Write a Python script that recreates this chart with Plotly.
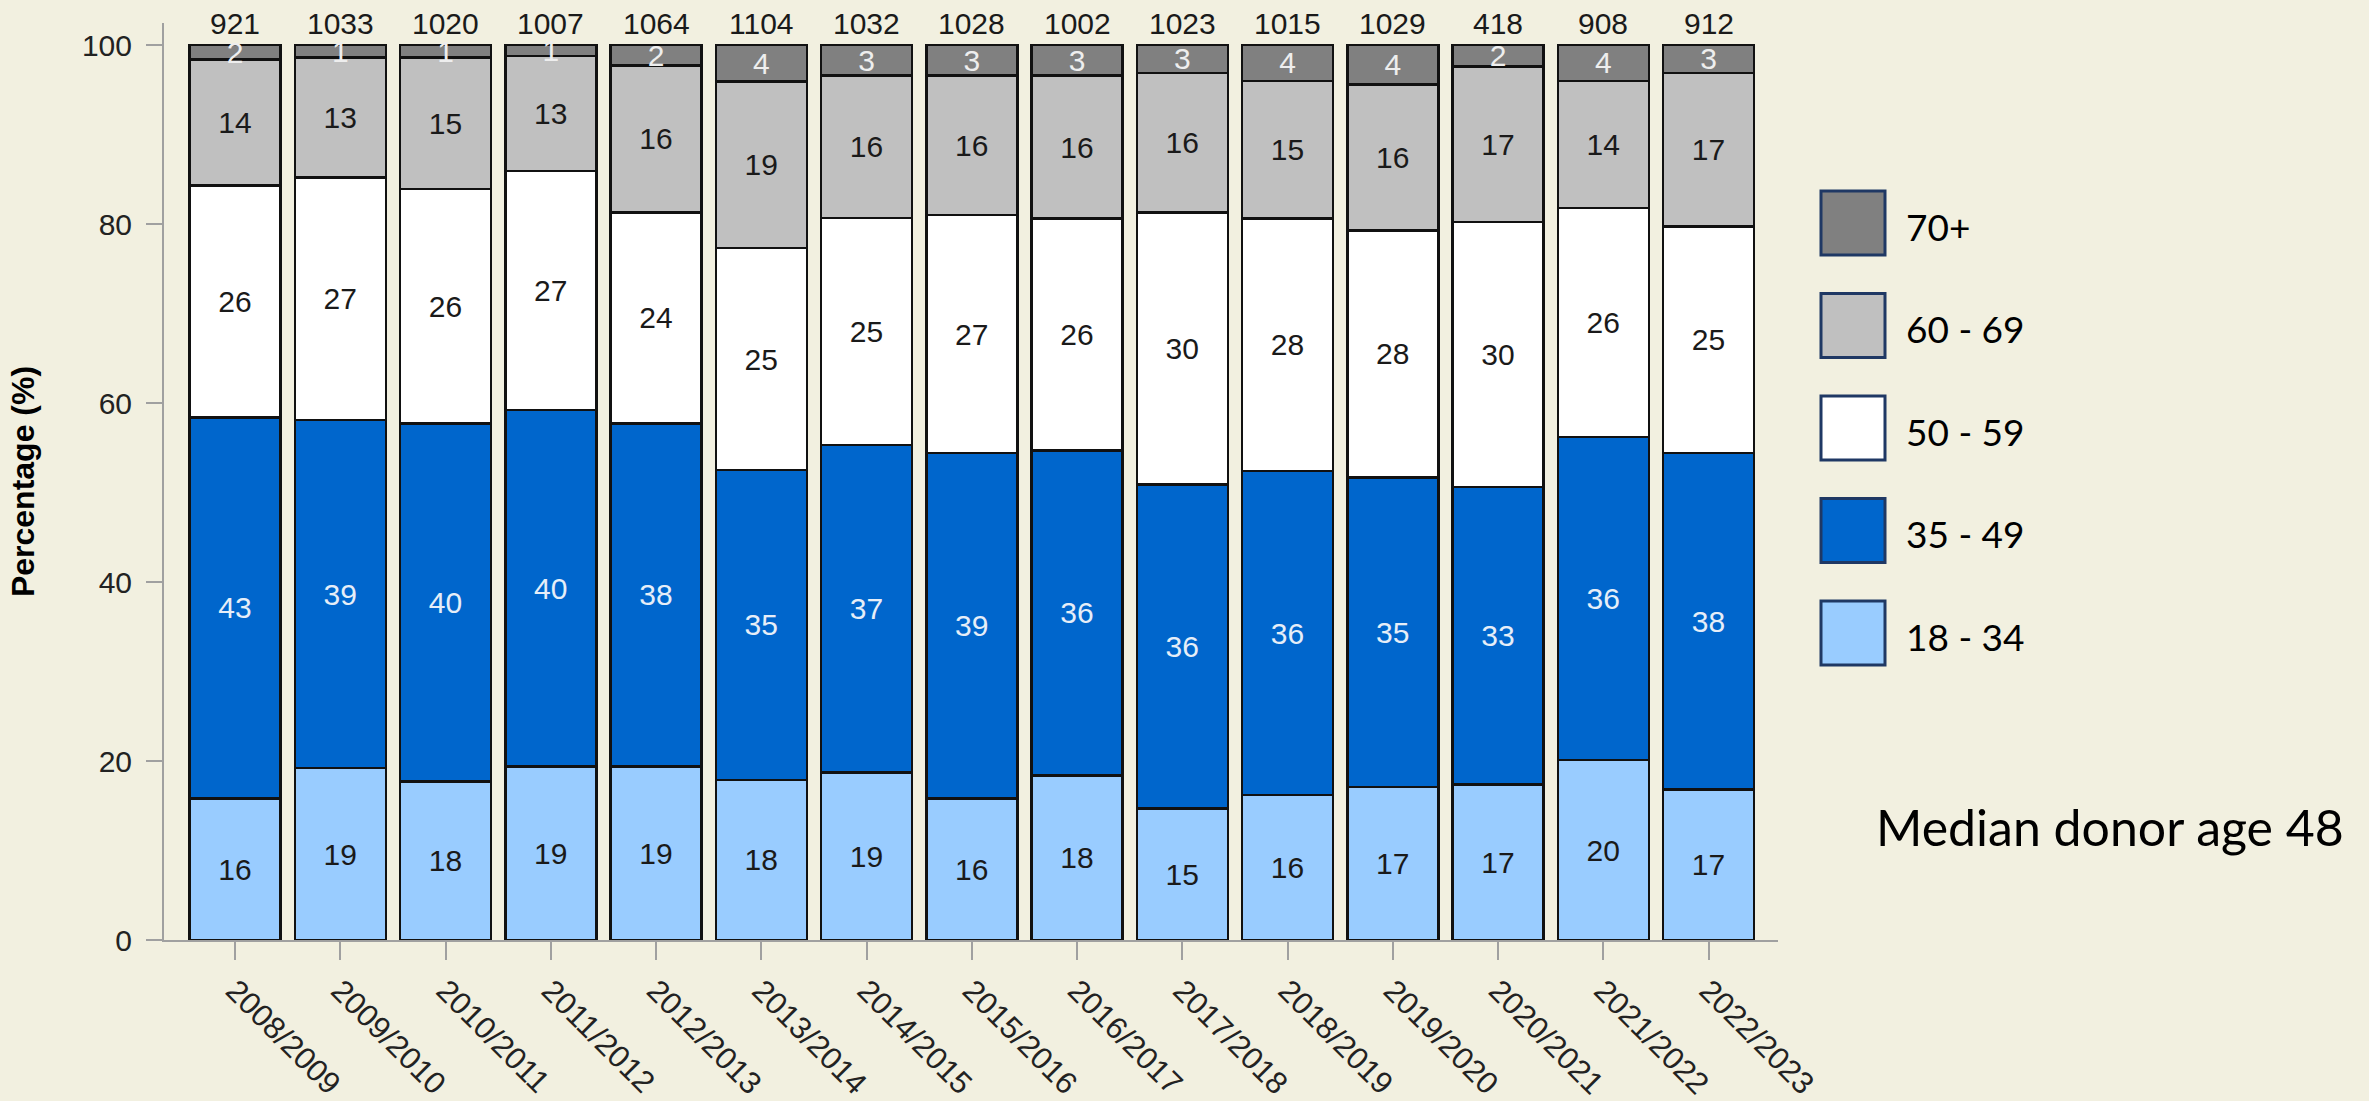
import plotly.graph_objects as go

# ---------------- data ----------------
years = ["2008/2009", "2009/2010", "2010/2011", "2011/2012", "2012/2013",
         "2013/2014", "2014/2015", "2015/2016", "2016/2017", "2017/2018",
         "2018/2019", "2019/2020", "2020/2021", "2021/2022", "2022/2023"]
donors = [921, 1033, 1020, 1007, 1064, 1104, 1032, 1028, 1002, 1023,
          1015, 1029, 418, 908, 912]

age_18_34 = [15.8, 19.2, 17.7, 19.4, 19.4, 17.9, 18.7, 15.8, 18.4, 14.7, 16.2, 17.1, 17.4, 20.1, 16.8]
age_35_49 = [42.6, 38.9, 40.0, 39.8, 38.3, 34.6, 36.6, 38.6, 36.3, 36.2, 36.2, 34.6, 33.2, 36.1, 37.6]
age_50_59 = [25.9, 27.1, 26.2, 26.7, 23.6, 24.8, 25.4, 26.6, 25.9, 30.4, 28.2, 27.6, 29.6, 25.6, 25.3]
age_60_69 = [14.1, 13.4, 14.7, 12.9, 16.4, 18.6, 15.9, 15.6, 16.0, 15.6, 15.4, 16.3, 17.4, 14.2, 17.2]
age_70_plus = [1.6, 1.4, 1.4, 1.2, 2.3, 4.1, 3.4, 3.4, 3.4, 3.1, 4.0, 4.4, 2.4, 4.0, 3.1]

group_names = ["18 - 34", "35 - 49", "50 - 59", "60 - 69", "70+"]
median_text = "Median donor age 48"
y_title = "Percentage (%)"

# ---------------- style ----------------
W, H = 2369, 1101
L, R, T, B = 164, 1778, 23, 940      # plot area in pixels
BG = "#F2F0E0"
fills = ["#99CCFF", "#0066CC", "#FFFFFF", "#C0C0C0", "#808080"]
label_colors = ["#1a1a1a", "#E6EEF8", "#1a1a1a", "#1a1a1a", "#EEEEEE"]
FONT = "Liberation Sans, Arial, sans-serif"
LEG_FONT = "Lato, Carlito, Calibri, sans-serif"

series = [age_18_34, age_35_49, age_50_59, age_60_69, age_70_plus]

fig = go.Figure()
for name, vals, fc, lc in zip(group_names, series, fills, label_colors):
    fig.add_trace(go.Bar(
        x=years, y=vals, name=name,
        marker=dict(color=fc, line=dict(color="#111111", width=2.5)),
        texttemplate="%{y:.0f}", textposition="inside",
        insidetextanchor="middle", constraintext="none", textangle=0,
        insidetextfont=dict(family=FONT, size=30, color=lc),
        textfont=dict(family=FONT, size=30, color=lc),
        showlegend=False, cliponaxis=False,
    ))

# donor counts above bars
for yr, n in zip(years, donors):
    fig.add_annotation(x=yr, y=100, xref="x", yref="y", text=str(n),
                       showarrow=False, yanchor="middle", yshift=22,
                       font=dict(family=FONT, size=30, color="#1a1a1a"))

pw, ph = R - L, B - T
def px(xp):
    return (xp - L) / pw
def py(yp):
    return (B - yp) / ph

# custom legend (top to bottom: 70+ ... 18-34)
box_x0, box_x1 = 1821, 1885
first_c, pitch, half = 223, 102.5, 32
for i, (name, fc) in enumerate(zip(group_names[::-1], fills[::-1])):
    c = first_c + i * pitch
    fig.add_shape(type="rect", xref="paper", yref="paper",
                  x0=px(box_x0), x1=px(box_x1), y0=py(c + half), y1=py(c - half),
                  fillcolor=fc, line=dict(color="#1F3864", width=3), layer="above")
    fig.add_annotation(xref="paper", yref="paper", x=px(1904), y=py(c + 3),
                       text=name, showarrow=False, xanchor="left", yanchor="middle",
                       font=dict(family=LEG_FONT, size=37, color="#000000"))

fig.add_annotation(xref="paper", yref="paper", x=px(1874), y=py(827),
                   text=median_text, showarrow=False, xanchor="left", yanchor="middle",
                   font=dict(family=LEG_FONT, size=50, color="#000000"))

fig.update_layout(
    width=W, height=H,
    margin=dict(l=L, r=W - R, t=T, b=H - B, pad=0, autoexpand=False),
    paper_bgcolor=BG, plot_bgcolor=BG,
    barmode="stack", bargap=0.135,
    font=dict(family=FONT, size=30, color="#222222"),
    xaxis=dict(
        type="category", range=[-0.675, 14.66], tickangle=45, automargin=False,
        showline=True, linecolor="#A0A0A0", linewidth=2,
        ticks="outside", ticklen=18, tickwidth=2, tickcolor="#A0A0A0",
        tickfont=dict(family=FONT, size=31, color="#222222"),
        showgrid=False, zeroline=False, fixedrange=True,
    ),
    yaxis=dict(
        range=[0, 102.46], tickvals=[0, 20, 40, 60, 80, 100], automargin=False,
        showline=True, linecolor="#A0A0A0", linewidth=2,
        ticks="outside", ticklen=16, tickwidth=2, tickcolor="#A0A0A0",
        ticklabelstandoff=8,
        tickfont=dict(family=FONT, size=30, color="#222222"),
        showgrid=False, zeroline=False, fixedrange=True,
        title=dict(text="<b>" + y_title + "</b>", standoff=38,
                   font=dict(family=FONT, size=32, color="#000000")),
    ),
)

fig.write_html(
    "out.html",
    config={"displayModeBar": False},
    post_script="document.body.style.margin='0px';document.body.style.padding='0px';"
                "document.body.style.overflow='hidden';",
)
